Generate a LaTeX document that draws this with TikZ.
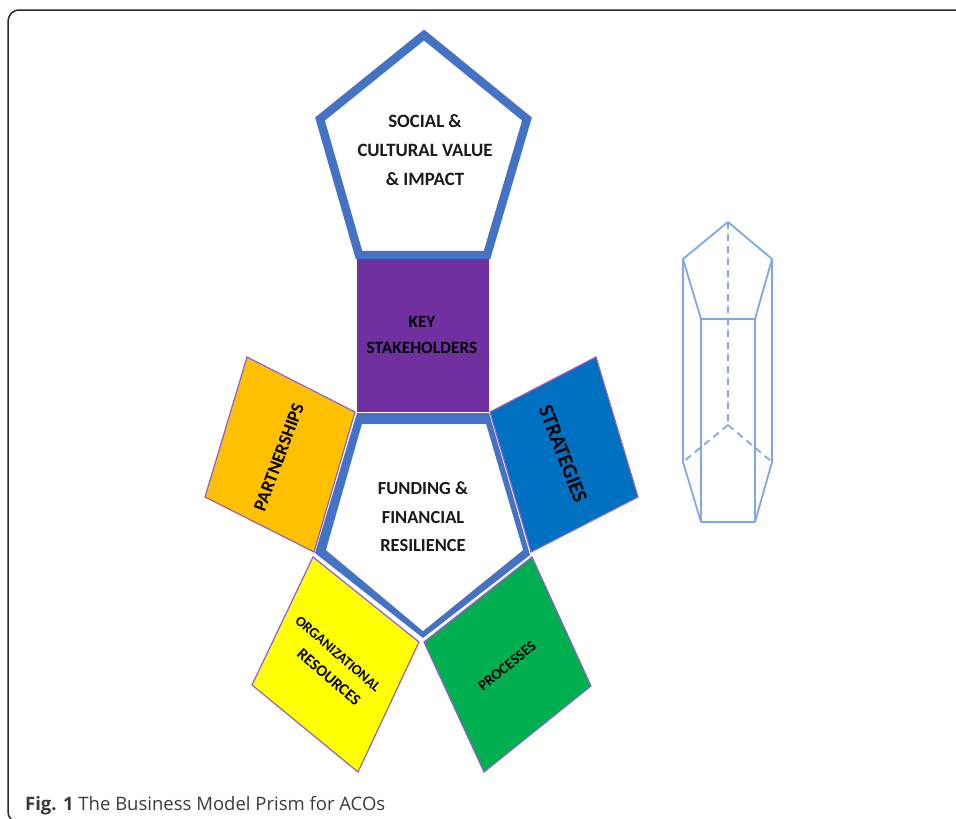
\documentclass[tikz,border=0pt]{standalone}
\usepackage{fontspec}
\setmainfont{Carlito}
\newfontfamily\capfont{Open Sans}
\definecolor{pentblue}{HTML}{4472C4}
\definecolor{edgepurple}{HTML}{9060C8}
\definecolor{keypurple}{HTML}{7030A0}
\definecolor{partorange}{HTML}{FFC000}
\definecolor{stratblue}{HTML}{0070C0}
\definecolor{resyellow}{HTML}{FFFF00}
\definecolor{procgreen}{HTML}{00B050}
\definecolor{prismblue}{HTML}{7FA8E4}
\definecolor{frameink}{HTML}{2A2A2A}
\definecolor{capink}{HTML}{3A3A3A}
\definecolor{labelink}{HTML}{1A1A1A}
\tikzset{
  face/.style={draw=edgepurple,line width=1.2pt,line join=miter},
  facetext/.style={font=\fontsize{18.8}{29}\selectfont\bfseries,text=labelink,align=center,inner sep=0pt},
  fundtext/.style={font=\fontsize{18.4}{28.5}\selectfont\bfseries,text=labelink,align=center,inner sep=0pt},
  keytext/.style={font=\fontsize{17.3}{26}\selectfont\bfseries,text=black,align=center,inner sep=0pt},
  sidetext/.style={font=\fontsize{18.3}{24}\selectfont\bfseries,text=black,inner sep=0pt},
  prismline/.style={draw=prismblue,line width=1.8pt,line join=round},
  prismdash/.style={prismline,dash pattern=on 7pt off 5pt},
}
\begin{document}
\begin{tikzpicture}[x=1pt,y=-1pt]
\useasboundingbox (0,0) rectangle (956,819);
% frame
\coordinate (frameTR) at (956,10);
\coordinate (frameBL) at (8,812);
\draw[frameink,line width=1.5pt] (frameTR) -- (20,10) .. controls (12,10) and (8,15) .. (8,23) -- (frameBL) .. controls (8,815) and (9,817) .. (11,819);
% top pentagon
\coordinate (ta) at (424,35);
\coordinate (tb) at (527,119);
\coordinate (tc) at (487,255);
\coordinate (td) at (359,255);
\coordinate (te) at (320,119);
\draw[pentblue,line width=8.5pt,line join=miter,fill=white] (ta) -- (tb) -- (tc) -- (td) -- (te) -- cycle;
% purple square
\coordinate (ka) at (357,259);
\coordinate (kb) at (489,259);
\coordinate (kc) at (489,412);
\coordinate (kd) at (357,412);
\fill[keypurple] (ka) -- (kb) -- (kc) -- (kd) -- cycle;
% side faces
\coordinate (pa) at (247,357); \coordinate (pb) at (355,412); \coordinate (pc) at (314,552); \coordinate (pd) at (205,497);
\draw[face,fill=partorange] (pa) -- (pb) -- (pc) -- (pd) -- cycle;
\coordinate (sa) at (596,357); \coordinate (sb) at (638,497); \coordinate (sc) at (531,552); \coordinate (sd) at (490,412);
\draw[face,fill=stratblue] (sa) -- (sb) -- (sc) -- (sd) -- cycle;
\coordinate (oa) at (313,557); \coordinate (ob) at (419,642); \coordinate (oc) at (358,772); \coordinate (od) at (252,685);
\draw[face,fill=resyellow] (oa) -- (ob) -- (oc) -- (od) -- cycle;
\coordinate (ga) at (532,557); \coordinate (gb) at (591,686); \coordinate (gc) at (484,772); \coordinate (gd) at (424,642);
\draw[face,fill=procgreen] (ga) -- (gb) -- (gc) -- (gd) -- cycle;
% lower pentagon
\coordinate (la) at (357,413); \coordinate (lb) at (489,413); \coordinate (lc) at (530,555); \coordinate (ld) at (423,638); \coordinate (le) at (315,553);
\coordinate (ia) at (362,424); \coordinate (ib) at (486,424); \coordinate (ic) at (523,550); \coordinate (id) at (423,631); \coordinate (ie) at (326,550);
\fill[pentblue] (la) -- (lb) -- (lc) -- (ld) -- (le) -- cycle;
\fill[white] (ia) -- (ib) -- (ic) -- (id) -- (ie) -- cycle;
% labels
\node[facetext] (social) at (425,150) {SOCIAL \&\\CULTURAL VALUE\\\& IMPACT};
\node[fundtext] (funding) at (423,517) {FUNDING \&\\FINANCIAL\\RESILIENCE};
\node[keytext] (key) at (422,335) {KEY\\STAKEHOLDERS};
\node[sidetext,rotate=69.5] (part) at (279,457) {PARTNERSHIPS};
\node[sidetext,font=\fontsize{21}{24}\selectfont\bfseries,rotate=-69] (strat) at (563,454) {STRATEGIES};
\node[sidetext,font=\fontsize{14.3}{20}\selectfont\bfseries,rotate=-41] (org) at (338,654) {ORGANIZATIONAL};
\node[sidetext,font=\fontsize{16}{20}\selectfont\bfseries,rotate=-41] (res) at (329,677) {RESOURCES};
\node[sidetext,font=\fontsize{14.9}{20}\selectfont\bfseries,rotate=39] (proc) at (507,666) {PROCESSES};
% prism
\coordinate (ra) at (728,222); \coordinate (rb) at (772,259); \coordinate (rc) at (755,319); \coordinate (rd) at (701,319); \coordinate (re) at (683,259);
\coordinate (rf) at (728,425); \coordinate (rg) at (772,462); \coordinate (rh) at (755,522); \coordinate (ri) at (701,522); \coordinate (rj) at (683,462);
\draw[prismline] (ra) -- (rb) -- (rc) -- (rd) -- (re) -- cycle;
\draw[prismline] (rb) -- (rg);
\draw[prismline] (re) -- (rj);
\draw[prismline] (rc) -- (rh) -- (ri) -- (rd);
\draw[prismline] (rg) -- (rh);
\draw[prismline] (rj) -- (ri);
\draw[prismdash] (ra) -- (rf);
\draw[prismdash] (rf) -- (rg);
\draw[prismdash] (rf) -- (rj);
% caption
\node[anchor=base west,inner sep=0pt,text=capink,font=\capfont\fontsize{18.5}{20}\selectfont] (caption) at (25,810) {\textbf{Fig. 1} The Business Model Prism for ACOs};
\end{tikzpicture}
\end{document}
